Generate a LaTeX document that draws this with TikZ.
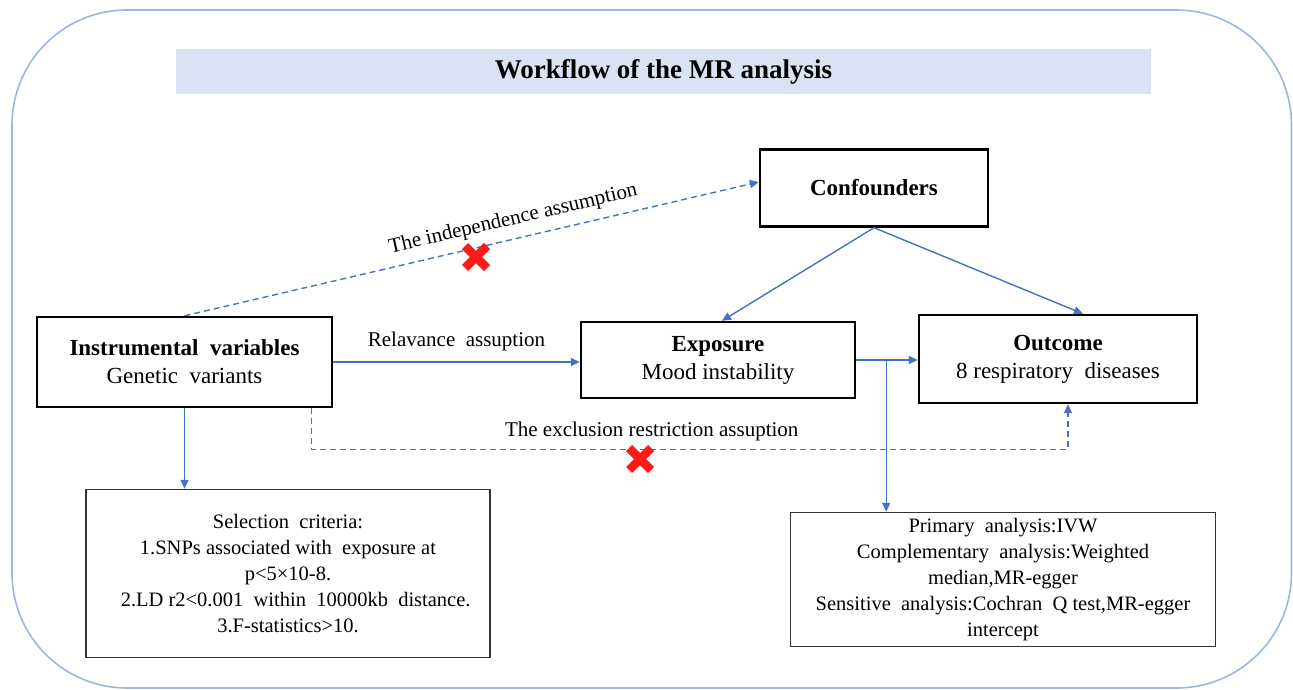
\documentclass[tikz,border=0pt]{standalone}
\usepackage{fontspec}
\setmainfont{Liberation Serif}
\usetikzlibrary{arrows.meta,calc,positioning}
\definecolor{lineblue}{HTML}{4472C4}
\definecolor{frameblue}{HTML}{9DB5E3}
\definecolor{bandblue}{HTML}{DAE3F3}
\definecolor{xred}{HTML}{FF1A1A}
\tikzset{
  mainbox/.style={draw=black, line width=2.4pt, align=center, inner sep=0pt, font=\fontsize{23}{28}\selectfont},
  lowbox/.style={draw=black!80, line width=1.5pt, align=center, inner sep=0pt, font=\fontsize{20.5}{26}\selectfont},
  conn/.style={draw=lineblue, line width=1.4pt, -{Triangle[length=9pt,width=8pt]}},
  dconn/.style={conn, dash pattern=on 6pt off 4pt},
  lbl/.style={font=\fontsize{21}{24}\selectfont, inner sep=0pt},
  redx/.style={draw=xred, line width=8.5pt},
}
\begin{document}
\begin{tikzpicture}[x=1pt,y=-1pt]
\useasboundingbox (0,0) rectangle (1293,690);
% outer frame
\draw[frameblue, line width=1.6pt, rounded corners=115pt] (12,10) rectangle (1291.5,688);
% title band
\node[fill=bandblue, minimum width=975pt, minimum height=45pt, inner sep=0pt,
      font=\fontsize{27}{30}\selectfont\bfseries] (title) at (663.5,71.5) {Workflow of the MR analysis};
% main boxes
\node[mainbox, minimum width=295pt, minimum height=90pt] (iv) at (184.5,362)
  {{\bfseries Instrumental\ \ variables}\\Genetic\ \ variants};
\node[mainbox, minimum width=274pt, minimum height=76pt] (exp) at (718,360)
  {{\bfseries Exposure}\\Mood instability};
\node[mainbox, minimum width=278pt, minimum height=88pt] (out) at (1058,359)
  {{\bfseries Outcome}\\8 respiratory\ \ diseases};
\node[mainbox, minimum width=228pt, minimum height=77pt] (conf) at (874,188)
  {\bfseries Confounders};
% lower boxes
\node[lowbox, minimum width=404pt, minimum height=168pt] (sel) at (288,573.5)
  {Selection\ \ criteria:\\1.SNPs associated with\ \ exposure at\\p<5\texttimes10-8.\\
   \ \ \ 2.LD r2<0.001\ \ within\ \ 10000kb\ \ distance.\\3.F-statistics>10.};
\node[lowbox, minimum width=425pt, minimum height=134pt] (ana) at (1003,579.5)
  {Primary\ \ analysis:IVW\\Complementary\ \ analysis:Weighted\\median,MR-egger\\
   Sensitive\ \ analysis:Cochran\ \ Q test,MR-egger\\intercept};
% connectors
\draw[dconn] (iv.north) -- node[lbl, sloped, above=9pt, pos=0.58] (indlbl) {The independence assumption} ([yshift=6pt]conf.west);
\draw[conn] (iv.east) -- node[lbl, above=10pt] (rellbl) {Relavance\ \ assuption} (iv.east -| exp.west);
\draw[conn] (conf.south) -- ($(exp.north)+(4,0)$);
\draw[conn] (conf.south) -- ($(out.north)+(25,0)$);
\draw[conn] (exp.east) -- (exp.east -| out.west);
\coordinate (br) at ($(exp.east)+(30,0)$);
\draw[conn] (br) -- (br |- ana.north);
\draw[conn] (iv.south) -- (iv.south |- sel.north);
\coordinate (exs) at ($(iv.south east)+(-22,0)$);
\coordinate (exe) at ($(out.south)+(10,0)$);
\draw[dconn] (exs) -- ($(exs)+(0,41)$) -- node[lbl, above=8pt, pos=0.45] (exlbl) {The exclusion restriction assuption} ($(exe)+(0,45)$) -- (exe);
% red crosses
\coordinate (x1) at (476,257);
\coordinate (x2) at (640,459);
\draw[redx] ($(x1)+(-11,-11)$) -- ($(x1)+(11,11)$) ($(x1)+(-11,11)$) -- ($(x1)+(11,-11)$);
\draw[redx] ($(x2)+(-11,-11)$) -- ($(x2)+(11,11)$) ($(x2)+(-11,11)$) -- ($(x2)+(11,-11)$);
\end{tikzpicture}
\end{document}
